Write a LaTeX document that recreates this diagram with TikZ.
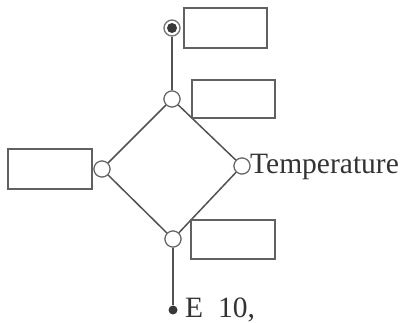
\documentclass[tikz,border=0pt]{standalone}
\usepackage{fontspec}
\setmainfont{Liberation Serif}
\begin{document}
\begin{tikzpicture}[x=1pt,y=-1pt,
  wire/.style={draw=black!68,line width=1.5pt},
  joint/.style={circle,draw=black!60,fill=white,line width=1.1pt,minimum size=16pt,inner sep=0pt},
  labelbox/.style={draw=black!62,line width=1.3pt},
  term/.style={circle,fill=black!78,minimum size=9pt,inner sep=0pt},
  lbl/.style={inner sep=0pt,text=black!80,font=\fontsize{29.5}{29.5}\selectfont}]
\useasboundingbox (0,0) rectangle (405,323);
% terminals
\node[circle,draw=black!55,fill=white,line width=1.3pt,minimum size=16pt,inner sep=0pt] (tt) at (172,28) {};
\node[term,minimum size=10pt] (ttin) at (172,28) {};
\node[term] (bt) at (173,310) {};
% diamond joints
\node[joint] (jt) at (172,99) {};
\node[joint] (jl) at (102,169) {};
\node[joint] (jr) at (242,166) {};
\node[joint] (jb) at (173,239) {};
% wires
\draw[wire] (tt) -- (jt);
\draw[wire] (jt) -- (jl) -- (jb) -- (jr) -- (jt);
\draw[wire] (jb) -- (bt);
% redraw joints on top
\node[joint] at (jt) {};
\node[joint] at (jl) {};
\node[joint] at (jr) {};
\node[joint] at (jb) {};
% boxes
\draw[labelbox] (184,8) rectangle (267,48);
\draw[labelbox] (192,80) rectangle (275,118);
\draw[labelbox] (8,149) rectangle (92,189);
\draw[labelbox] (191,220) rectangle (275,259);
% labels
\node[lbl,anchor=base west] (temp) at (250,174) {Temperature};
\node[lbl,anchor=base west] (e10) at (185,318) {E\hspace{15pt}10,};
\end{tikzpicture}
\end{document}
